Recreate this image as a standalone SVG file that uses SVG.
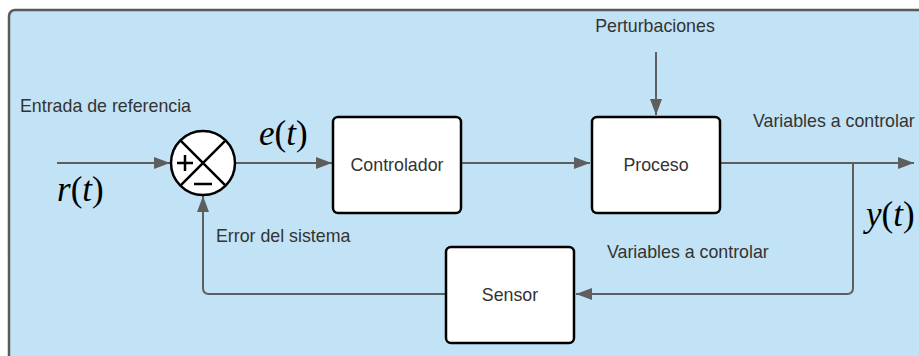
<svg xmlns="http://www.w3.org/2000/svg" width="919" height="356" viewBox="0 0 919 356">
<style>
.lbl{font-family:"Liberation Sans",Arial,sans-serif;font-size:17.8px;fill:#333333}
.box{fill:#ffffff;stroke:#000000;stroke-width:2.5}
.btxt{font-family:"Liberation Sans",Arial,sans-serif;font-size:17.8px;fill:#333333;text-anchor:middle}
.math{font-family:"Liberation Serif","Times New Roman",serif;font-style:italic;font-size:35px;fill:#000000}
.up{font-style:normal}
.con{fill:none;stroke:#5e5e5e;stroke-width:2}
</style>
<defs>
<marker id="ah2" viewBox="0 0 16 12" refX="16" refY="6" markerWidth="16" markerHeight="12" markerUnits="userSpaceOnUse" orient="auto">
<path d="M0,0 L16,6 L0,12 z" fill="#5e5e5e"/>
</marker>
</defs>
<rect x="9" y="10" width="930" height="360" rx="6" fill="#c2e3f5" stroke="#5a5a5a" stroke-width="2.5"/>
<g id="connectors">
<path class="con" d="M57,163 H170" marker-end="url(#ah2)"/>
<path class="con" d="M236,163 H332" marker-end="url(#ah2)"/>
<path class="con" d="M462,163 H590" marker-end="url(#ah2)"/>
<path class="con" d="M721,163 H914" marker-end="url(#ah2)"/>
<path class="con" d="M656,52 V115" marker-end="url(#ah2)"/>
<path class="con" d="M853,163 V288 Q853,294 847,294 H576" marker-end="url(#ah2)"/>
<path class="con" d="M446,294 H209 Q203,294 203,288 V196" marker-end="url(#ah2)"/>
</g>
<g id="sum">
<circle cx="203" cy="163" r="32" fill="#ffffff" stroke="#000000" stroke-width="2.5"/>
<path d="M180.4,140.4 L225.6,185.6 M225.6,140.4 L180.4,185.6" stroke="#000000" stroke-width="2.5"/>
<path d="M177,163 H193 M185,155 V171" stroke="#000000" stroke-width="2.5"/>
<path d="M194,184 H212" stroke="#000000" stroke-width="2.5"/>
</g>
<g id="controlador">
<rect class="box" x="333" y="117" width="128" height="96" rx="5"/>
<text class="btxt" x="397" y="171">Controlador</text>
</g>
<g id="proceso">
<rect class="box" x="592" y="117" width="128" height="96" rx="5"/>
<text class="btxt" x="656" y="171">Proceso</text>
</g>
<g id="sensor">
<rect class="box" x="446" y="247" width="128" height="96" rx="5"/>
<text class="btxt" x="510" y="301">Sensor</text>
</g>
<g id="labels">
<text class="lbl" x="20" y="112">Entrada de referencia</text>
<text class="lbl" x="655" y="32" text-anchor="middle">Perturbaciones</text>
<text class="lbl" x="753" y="127">Variables a controlar</text>
<text class="lbl" x="607" y="258">Variables a controlar</text>
<text class="lbl" x="216" y="242">Error del sistema</text>
<text class="math" x="259" y="145">e<tspan class="up">(</tspan>t<tspan class="up">)</tspan></text>
<text class="math" x="57" y="201">r<tspan class="up">(</tspan>t<tspan class="up">)</tspan></text>
<text class="math" x="866" y="226">y<tspan class="up">(</tspan>t<tspan class="up">)</tspan></text>
</g>
</svg>
